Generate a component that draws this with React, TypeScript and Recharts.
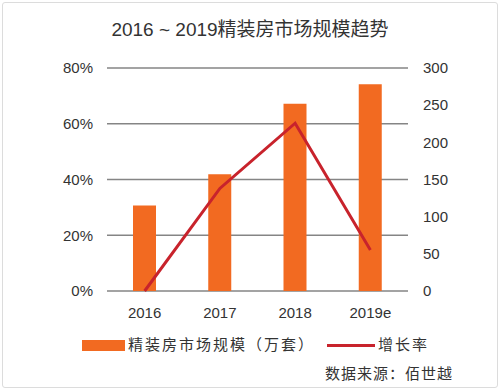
import { ComposedChart, Bar, Line, XAxis, YAxis, CartesianGrid } from 'recharts';

const years = ['2016', '2017', '2018', '2019e'];
const marketSize = [115, 157, 252, 278];
const growthRate = [0, 36.8, 60.2, 14.7];
const leftTicks = [0, 20, 40, 60, 80];
const rightTicks = [0, 50, 100, 150, 200, 250, 300];

const data = years.map((year, i) => ({
  year,
  size: marketSize[i],
  rate: growthRate[i],
}));

const FONT = 'Arial, "Liberation Sans", "Noto Sans CJK SC", sans-serif';
const ORANGE = '#f26a21';
const RED = '#c8232c';

function LegendBox() {
  return (
    <div style={{ position: 'absolute', left: 0, top: 333, width: 500, height: 55, fontFamily: FONT, color: '#333' }}>
      <div style={{ position: 'absolute', left: 82, top: 7, width: 43, height: 11, background: ORANGE }} />
      <div style={{ position: 'absolute', left: 128, top: 0, fontSize: 15, letterSpacing: 2 }}>精装房市场规模（万套）</div>
      <div style={{ position: 'absolute', left: 327, top: 11, width: 48, height: 3, background: RED }} />
      <div style={{ position: 'absolute', left: 378, top: 0, fontSize: 15, letterSpacing: 2 }}>增长率</div>
      <div style={{ position: 'absolute', left: 325, top: 29, fontSize: 15, letterSpacing: 1 }}>数据来源：佰世越</div>
    </div>
  );
}

export default function App() {
  return (
    <div
      style={{
        position: 'fixed',
        left: 0,
        top: 0,
        width: 500,
        height: 390,
        background: '#fff',
        fontFamily: FONT,
      }}
    >
      <div
        style={{
          position: 'absolute',
          left: 2,
          top: 2,
          width: 494,
          height: 384,
          border: '1px solid #dcdcdc',
          borderRadius: 3,
        }}
      />
      <div
        style={{
          position: 'absolute',
          top: 14,
          width: 500,
          textAlign: 'center',
          fontSize: 19,
          color: '#333',
        }}
      >
        2016 ~ 2019精装房市场规模趋势
      </div>
      <ComposedChart
        width={500}
        height={390}
        data={data}
        margin={{ top: 68, right: 0, bottom: 69, left: 0 }}
        style={{ position: 'absolute', left: 0, top: 0 }}
      >
        <CartesianGrid yAxisId="left" vertical={false} stroke="#858585" strokeWidth={1.5} />
        <XAxis
          dataKey="year"
          axisLine={false}
          tickLine={false}
          tickSize={0}
          tickMargin={16}
          height={30}
          tick={{ fill: '#333', fontSize: 15, fontFamily: FONT }}
        />
        <YAxis
          yAxisId="left"
          orientation="left"
          width={107}
          domain={[0, 80]}
          ticks={leftTicks}
          tickFormatter={(v) => `${v}%`}
          axisLine={false}
          tickLine={false}
          tickSize={0}
          tickMargin={14}
          tick={{ fill: '#333', fontSize: 15, fontFamily: FONT }}
        />
        <YAxis
          yAxisId="right"
          orientation="right"
          width={92}
          domain={[0, 300]}
          ticks={rightTicks}
          axisLine={false}
          tickLine={false}
          tickSize={0}
          tickMargin={15}
          tick={{ fill: '#333', fontSize: 15, fontFamily: FONT }}
        />
        <Bar yAxisId="right" dataKey="size" fill={ORANGE} barSize={23} isAnimationActive={false} />
        <Line
          yAxisId="left"
          dataKey="rate"
          stroke={RED}
          strokeWidth={3}
          dot={false}
          activeDot={false}
          type="linear"
          isAnimationActive={false}
        />
      </ComposedChart>
      <LegendBox />
    </div>
  );
}
